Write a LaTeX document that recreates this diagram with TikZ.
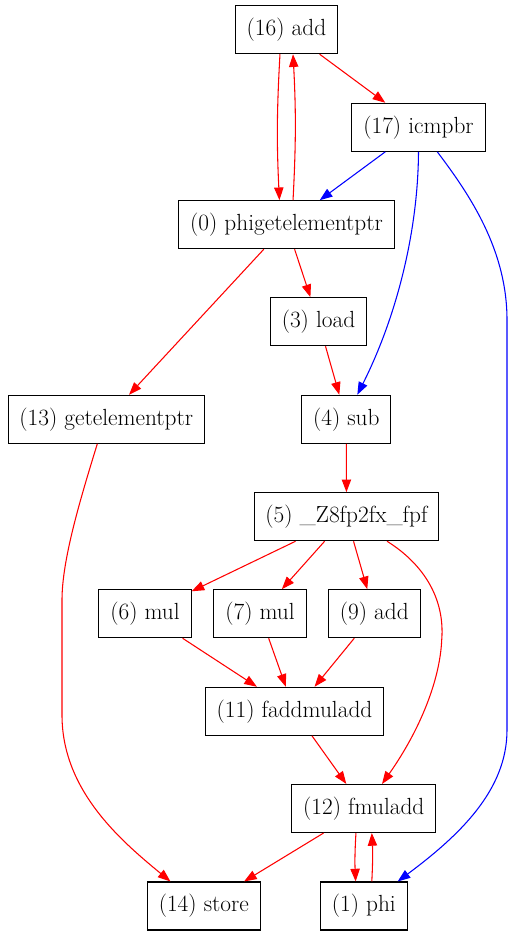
\documentclass[tikz,border=0pt]{standalone}
\usetikzlibrary{arrows.meta}
\begin{document}
\begin{tikzpicture}[x=0.75pt,y=-0.75pt,
    op/.style={draw,rectangle,line width=0.8pt,minimum height=36pt,inner xsep=8.5pt,inner ysep=0pt,
        font=\fontsize{17.5}{21}\selectfont},
    dep/.style={red,line width=0.8pt,-{Triangle[length=9.5pt,width=7pt]}},
    ctl/.style={blue,line width=0.8pt,-{Triangle[length=9.5pt,width=7pt]}}]
        \useasboundingbox (0,0) rectangle (513,936);
        \foreach \i/\x/\y/\t in {16/286.5/29.7/add, 17/418.5/127.3/icmpbr, 0/286.5/224.7/phigetelementptr,
            3/318.5/321.7/load, 13/106.3/419.3/getelementptr, 4/346.3/419.3/sub,
            5/346.5/516.7/\_Z8fp2fx\_fpf, 6/145/613.7/mul, 7/260/613.7/mul, 9/374.3/613.7/add,
            11/294.5/711.3/faddmuladd, 12/363.8/808.5/fmuladd, 14/203.8/906/store, 1/363.8/906/phi} {
            \node[op] (n\i) at (\x,\y) {(\i) \t};
        }
        \draw[dep] ([xshift=-4.9pt]n16.south) to[bend right=3] ([xshift=-5.3pt]n0.north);
        \draw[dep] ([xshift=4.9pt]n0.north) to[bend right=3] ([xshift=4.9pt]n16.south);
        \draw[dep] (n16) -- (n17);
        \draw[ctl] (n17) -- (n0);
        \draw[ctl] (n17.south) .. controls (418,235) and (395,320) .. ([xshift=8.25pt]n4.north);
        \draw[ctl] ([xshift=14.1pt]n17.south) .. controls (470,195) and (507,250) .. (507,320)
            -- (507,730) .. controls (507,790) and (460,835) .. ([xshift=-7.5pt]n1.north east);
        \draw[dep] (n0) -- (n3);
        \draw[dep] (n0) -- (n13);
        \draw[dep] (n3) -- (n4);
        \draw[dep] (n4) -- (n5);
        \draw[dep] ([xshift=-6.75pt]n13.south) .. controls (80,500) and (62,560) .. (62,600)
            -- (62,715) .. controls (62,790) and (120,840) .. ([xshift=-25pt]n14.north);
        \foreach \j in {6,7,9} {
            \draw[dep] (n5) -- (n\j);
            \draw[dep] (n\j) -- (n11);
        }
        \draw[dep] ([xshift=30.4pt]n5.south) .. controls (425,565) and (445,600) .. (441.7,640)
            .. controls (440,680) and (420,730) .. ([xshift=13.65pt]n12.north);
        \draw[dep] (n11) -- (n12);
        \draw[dep] (n12) -- (n14);
        \draw[dep] ([xshift=-5.9pt]n12.south) to[bend right=3] ([xshift=-6.1pt]n1.north);
        \draw[dep] ([xshift=6pt]n1.north) to[bend right=3] ([xshift=6pt]n12.south);
    \end{tikzpicture}
\end{document}
